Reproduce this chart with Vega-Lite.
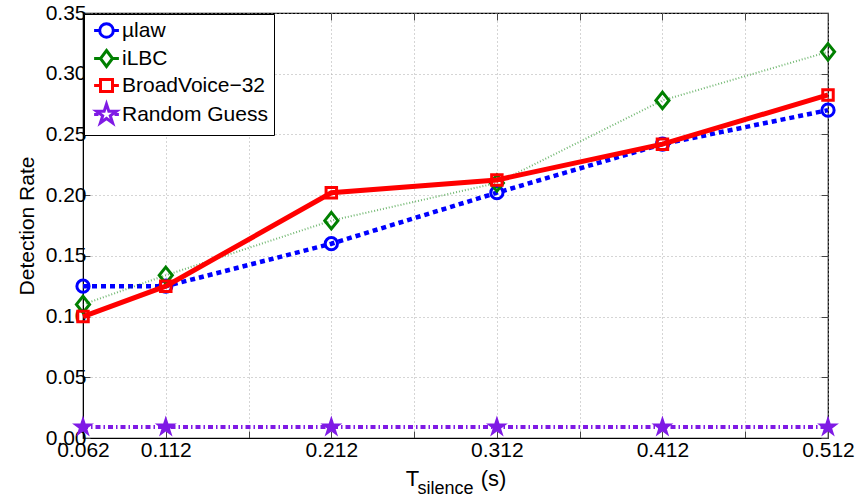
{
  "$schema": "https://vega.github.io/schema/vega-lite/v6.json",
  "width": 745,
  "height": 425,
  "autosize": {"type": "none"},
  "padding": {"left": 83, "top": 13, "right": 33, "bottom": 61},
  "config": {
    "font": "Liberation Sans",
    "view": {"stroke": "#000000", "strokeWidth": 1.2},
    "axis": {"labelColor": "#000000", "titleColor": "#000000", "domainColor": "#000000", "tickColor": "#444444"}
  },
  "data": {
    "values": [
      {"series": "µlaw", "t": 0.062, "rate": 0.125},
      {"series": "µlaw", "t": 0.112, "rate": 0.125},
      {"series": "µlaw", "t": 0.212, "rate": 0.16},
      {"series": "µlaw", "t": 0.312, "rate": 0.202},
      {"series": "µlaw", "t": 0.412, "rate": 0.242},
      {"series": "µlaw", "t": 0.512, "rate": 0.27},
      {"series": "iLBC", "t": 0.062, "rate": 0.11},
      {"series": "iLBC", "t": 0.112, "rate": 0.134},
      {"series": "iLBC", "t": 0.212, "rate": 0.179},
      {"series": "iLBC", "t": 0.312, "rate": 0.21},
      {"series": "iLBC", "t": 0.412, "rate": 0.278},
      {"series": "iLBC", "t": 0.512, "rate": 0.318},
      {"series": "BroadVoice−32", "t": 0.062, "rate": 0.1},
      {"series": "BroadVoice−32", "t": 0.112, "rate": 0.125},
      {"series": "BroadVoice−32", "t": 0.212, "rate": 0.202},
      {"series": "BroadVoice−32", "t": 0.312, "rate": 0.2125},
      {"series": "BroadVoice−32", "t": 0.412, "rate": 0.242},
      {"series": "BroadVoice−32", "t": 0.512, "rate": 0.2825},
      {"series": "Random Guess", "t": 0.062, "rate": 0.009},
      {"series": "Random Guess", "t": 0.112, "rate": 0.009},
      {"series": "Random Guess", "t": 0.212, "rate": 0.009},
      {"series": "Random Guess", "t": 0.312, "rate": 0.009},
      {"series": "Random Guess", "t": 0.412, "rate": 0.009},
      {"series": "Random Guess", "t": 0.512, "rate": 0.009}
    ]
  },
  "resolve": {"axis": {"x": "independent", "y": "independent"}},
  "layer": [
    {
      "transform": [{"filter": "datum.series == 'µlaw'"}],
      "mark": {"type": "line", "color": "#0000FF", "strokeWidth": 4.5, "strokeDash": [5, 4]},
      "encoding": {
        "x": {"field": "t", "type": "quantitative", "scale": {"domain": [0.062, 0.512], "nice": false, "zero": false},
          "axis": {"values": [0.062, 0.112, 0.162, 0.212, 0.262, 0.312, 0.362, 0.412, 0.462, 0.512],
            "labelExpr": "indexof([0.162, 0.262, 0.362, 0.462], datum.value) >= 0 ? '' : format(datum.value, '.3f')",
            "labelFontSize": 21, "labelPadding": 8, "labelFlush": false, "labelOverlap": false,
            "tickSize": -7, "grid": true, "gridDash": [1, 3], "gridColor": "#aaaaaa", "gridWidth": 1,
            "title": "T", "titleFontSize": 22, "titleFontWeight": "normal", "titleX": 329, "titleY": 47,
            "titleAlign": "center", "titleBaseline": "alphabetic"}},
        "y": {"field": "rate", "type": "quantitative", "scale": {"domain": [0, 0.35], "nice": false},
          "axis": {"values": [0, 0.05, 0.1, 0.15, 0.2, 0.25, 0.3, 0.35], "format": ".2f",
            "labelFontSize": 21, "labelPadding": 4, "labelFlush": false, "labelOverlap": false,
            "tickSize": -7, "grid": true, "gridDash": [1, 3], "gridColor": "#aaaaaa", "gridWidth": 1,
            "title": "Detection Rate", "titleFontSize": 21, "titleFontWeight": "normal", "titlePadding": 8}}
      }
    },
    {
      "transform": [{"filter": "datum.series == 'µlaw'"}],
      "mark": {"type": "point", "shape": "circle", "filled": false, "color": "#0000FF", "strokeWidth": 3, "size": 150, "opacity": 1},
      "encoding": {
        "x": {"field": "t", "type": "quantitative",
          "axis": {"orient": "bottom", "domain": false, "ticks": false, "labels": false, "grid": false,
            "title": "silence", "titleFontSize": 18, "titleFontWeight": "normal", "titleX": 334, "titleY": 55,
            "titleAlign": "left", "titleBaseline": "alphabetic"}},
        "y": {"field": "rate", "type": "quantitative",
          "axis": {"orient": "right", "domain": false, "labels": false, "grid": false, "title": null,
            "tickSize": -7, "values": [0, 0.05, 0.1, 0.15, 0.2, 0.25, 0.3, 0.35]}}
      }
    },
    {
      "transform": [{"filter": "datum.series == 'iLBC'"}],
      "mark": {"type": "line", "color": "#008000", "strokeWidth": 2, "strokeDash": [1, 2], "opacity": 0.55},
      "encoding": {
        "x": {"field": "t", "type": "quantitative",
          "axis": {"orient": "bottom", "domain": false, "ticks": false, "labels": false, "grid": false,
            "title": "(s)", "titleFontSize": 22, "titleFontWeight": "normal", "titleX": 410, "titleY": 47,
            "titleAlign": "center", "titleBaseline": "alphabetic"}},
        "y": {"field": "rate", "type": "quantitative", "axis": null}
      }
    },
    {
      "transform": [{"filter": "datum.series == 'iLBC'"}],
      "mark": {"type": "point", "shape": "M0,-1L0.8,0L0,1L-0.8,0Z", "filled": false, "color": "#008000", "strokeWidth": 3, "size": 270, "opacity": 1},
      "encoding": {
        "x": {"field": "t", "type": "quantitative",
          "axis": {"orient": "top", "domain": false, "labels": false, "grid": false, "title": null,
            "tickSize": -7, "values": [0.062, 0.112, 0.162, 0.212, 0.262, 0.312, 0.362, 0.412, 0.462, 0.512]}},
        "y": {"field": "rate", "type": "quantitative", "axis": null}
      }
    },
    {
      "transform": [{"filter": "datum.series == 'BroadVoice−32'"}],
      "mark": {"type": "line", "color": "#FF0000", "strokeWidth": 5},
      "encoding": {
        "x": {"field": "t", "type": "quantitative", "axis": null},
        "y": {"field": "rate", "type": "quantitative", "axis": null}
      }
    },
    {
      "transform": [{"filter": "datum.series == 'BroadVoice−32'"}],
      "mark": {"type": "point", "shape": "square", "filled": false, "color": "#FF0000", "strokeWidth": 3, "size": 110, "opacity": 1},
      "encoding": {
        "x": {"field": "t", "type": "quantitative", "axis": null},
        "y": {"field": "rate", "type": "quantitative", "axis": null}
      }
    },
    {
      "transform": [{"filter": "datum.series == 'Random Guess'"}],
      "mark": {"type": "line", "color": "#7F1AE5", "strokeWidth": 4, "strokeDash": [5, 3, 1.5, 3]},
      "encoding": {
        "x": {"field": "t", "type": "quantitative", "axis": null},
        "y": {"field": "rate", "type": "quantitative", "axis": null}
      }
    },
    {
      "transform": [{"filter": "datum.series == 'Random Guess'"}],
      "mark": {"type": "point", "shape": "M0,-1L0.2245,-0.309L0.951,-0.309L0.363,0.118L0.588,0.809L0,0.382L-0.588,0.809L-0.363,0.118L-0.951,-0.309L-0.2245,-0.309Z", "filled": true, "color": "#7F1AE5", "strokeWidth": 0, "size": 529, "opacity": 1},
      "encoding": {
        "x": {"field": "t", "type": "quantitative", "axis": null},
        "y": {"field": "rate", "type": "quantitative", "axis": null}
      }
    },
    {
      "mark": {"type": "point", "opacity": 0, "size": 256, "strokeWidth": 3},
      "encoding": {
        "x": {"field": "t", "type": "quantitative", "axis": null},
        "y": {"field": "rate", "type": "quantitative", "axis": null},
        "stroke": {"field": "series", "type": "nominal",
          "scale": {"domain": ["µlaw", "iLBC", "BroadVoice−32", "Random Guess"], "range": ["#0000FF", "#008000", "#FF0000", "#7F1AE5"]},
          "legend": {"title": null, "orient": "none", "legendX": 1, "legendY": 1, "padding": 6, "rowPadding": 0,
            "symbolOffset": 6, "labelOffset": 5, "labelFontSize": 21, "labelColor": "#000000", "labelFont": "Liberation Sans",
            "strokeColor": "#000000", "fillColor": "#ffffff", "symbolSize": 256, "symbolStrokeWidth": 3, "symbolOpacity": 1, "cornerRadius": 0}},
        "fill": {"field": "series", "type": "nominal",
          "scale": {"domain": ["µlaw", "iLBC", "BroadVoice−32", "Random Guess"], "range": ["transparent", "transparent", "transparent", "#7F1AE5"]},
          "legend": {"title": null}},
        "shape": {"field": "series", "type": "nominal",
          "scale": {"domain": ["µlaw", "iLBC", "BroadVoice−32", "Random Guess"],
            "range": [
              "M-1.55,0H-0.85M0.85,0H1.55M0.85,0A0.85,0.85,0,1,1,-0.85,0A0.85,0.85,0,1,1,0.85,0Z",
              "M-1.55,0H-0.75M0.75,0H1.55M0,-1L0.75,0L0,1L-0.75,0Z",
              "M-1.55,0H-0.75M0.75,0H1.55M-0.75,-0.75H0.75V0.75H-0.75Z",
              "M-1.55,0H-1M1,0H1.55M0,-1.3L0.292,-0.402L1.236,-0.402L0.472,0.153L0.764,1.052L0,0.497L-0.764,1.052L-0.472,0.153L-1.236,-0.402L-0.292,-0.402Z"
            ]},
          "legend": {"title": null}}
      }
    }
  ]
}
